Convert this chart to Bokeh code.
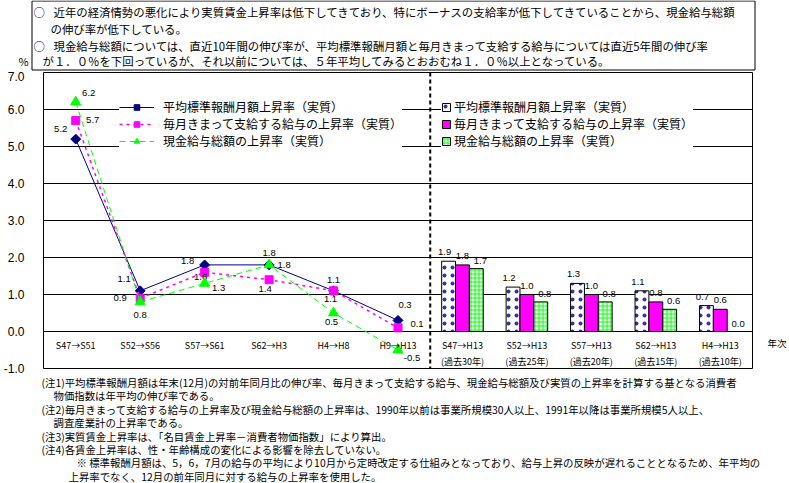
import math
from bokeh.plotting import figure
from bokeh.layouts import column
from bokeh.models import (ColumnDataSource, FactorRange, Range1d, FixedTicker, LinearAxis,
                          PrintfTickFormatter, Legend, LegendItem, Span)
from bokeh.transform import dodge
from bokeh.core.properties import value
from bokeh.embed import file_html
from bokeh.resources import INLINE

# ---------------- data ----------------
line_periods = ["S47→S51", "S52→S56", "S57→S61", "S62→H3", "H4→H8", "H9→H13"]
bar_periods = ["S47→H13\n(過去30年)", "S52→H13\n(過去25年)", "S57→H13\n(過去20年)",
               "S62→H13\n(過去15年)", "H4→H13\n(過去10年)"]

series_names = ["平均標準報酬月額上昇率（実質）",
                "毎月きまって支給する給与の上昇率（実質）",
                "現金給与総額の上昇率（実質）"]

line_standard = [5.2, 1.1, 1.8, 1.8, 1.1, 0.3]
line_regular = [5.7, 0.9, 1.6, 1.4, 1.1, 0.1]
line_total = [6.2, 0.8, 1.3, 1.8, 0.5, -0.5]

bar_standard = [1.9, 1.2, 1.3, 1.1, 0.7]
bar_regular = [1.8, 1.0, 1.0, 0.8, 0.6]
bar_total = [1.7, 0.8, 0.8, 0.6, 0.0]

y_ticks = [-1, 0, 1, 2, 3, 4, 5, 6, 7]
unit_label = "%"
x_title = "年次"

top_bullets = ["○", "○"]
top_lines = [
    "近年の経済情勢の悪化により実質賃金上昇率は低下してきており、特にボーナスの支給率が低下してきていることから、現金給与総額",
    "の伸び率が低下している。",
    "現金給与総額については、直近10年間の伸び率が、平均標準報酬月額と毎月きまって支給する給与については直近5年間の伸び率",
    "が１．０％を下回っているが、それ以前については、５年平均してみるとおおむね１．０％以上となっている。",
]

notes = [
    "(注1)平均標準報酬月額は年末(12月)の対前年同月比の伸び率、毎月きまって支給する給与、現金給与総額及び実質の上昇率を計算する基となる消費者",
    "物価指数は年平均の伸び率である。",
    "(注2)毎月きまって支給する給与の上昇率及び現金給与総額の上昇率は、1990年以前は事業所規模30人以上、1991年以降は事業所規模5人以上、",
    "調査産業計の上昇率である。",
    "(注3)実質賃金上昇率は、「名目賃金上昇率－消費者物価指数」により算出。",
    "(注4)各賃金上昇率は、性・年齢構成の変化による影響を除去していない。",
    "※ 標準報酬月額は、5，6，7月の給与の平均により10月から定時改定する仕組みとなっており、給与上昇の反映が遅れることとなるため、年平均の",
    "上昇率でなく、12月の前年同月に対する給与の上昇率を使用した。",
]

# ---------------- styles ----------------
JP = "Noto Sans CJK JP"
NUM = "Liberation Sans"
NAVY, MAGENTA, GREEN = "#000080", "#FF00FF", "#00FF00"
W = 789
TOP_H, MAIN_H, NOTE_H = 71, 305, 107

off_standard = [(-15, -10), (-16, -12), (-17, -4), (0, -12), (0, -11), (7, -15)]
off_regular = [(17, -1), (-20, 0), (-4, 5), (-4, 9), (-3, 8), (19, -4)]
off_total = [(13, -9), (0, 13), (14, 5), (15, 0), (-2, 9), (14, 8)]


def text_panel(h):
    f = figure(width=W, height=h, x_range=Range1d(0, W), y_range=Range1d(h, 0),
               output_backend="svg", toolbar_location=None, min_border=0,
               frame_align=False)
    f.axis.visible = False
    f.grid.grid_line_color = None
    f.outline_line_color = None
    f.background_fill_color = "white"
    f.border_fill_color = "white"
    return f


# ---------------- top text box ----------------
ptop = text_panel(TOP_H)
ptop.quad(left=31.5, right=754.5, top=0.5, bottom=69.5, fill_color=None,
          line_color="black", line_width=1)
ptop.text(x=[33, 33], y=[11.5, 45], text=top_bullets, text_align="left",
          text_baseline="middle", text_font=value(JP), text_font_size="11.4px",
          text_color="black")
ptop.text(x=[53, 50, 53, 42], y=[11.5, 28, 45, 60.5], text=top_lines, text_align="left",
          text_baseline="middle", text_font=value(JP), text_font_size="11.4px",
          text_color="black")
ptop.text(x=[23], y=[60.5], text=[unit_label], text_align="center", text_baseline="middle",
          text_font=value(JP), text_font_size="11px", text_color="black")

# ---------------- main chart ----------------
p = figure(width=W, height=MAIN_H,
           x_range=FactorRange(factors=line_periods + bar_periods),
           y_range=Range1d(-1, 7),
           output_backend="svg", toolbar_location=None,
           min_border_left=39, min_border_right=36,
           min_border_top=1, min_border_bottom=8, frame_align=False)
p.background_fill_color = "white"
p.border_fill_color = "white"
p.outline_line_color = "black"
p.outline_line_width = 1

p.xaxis.visible = False
p.xgrid.grid_line_color = None
p.yaxis.ticker = FixedTicker(ticks=y_ticks)
p.yaxis.formatter = PrintfTickFormatter(format="%.1f")
p.yaxis.axis_line_color = None
p.yaxis.major_tick_line_color = None
p.yaxis.minor_tick_line_color = None
p.yaxis.major_label_standoff = 13
p.yaxis.major_label_text_font = NUM
p.yaxis.major_label_text_font_size = "12px"
p.yaxis.major_label_text_color = "black"
p.ygrid.ticker = FixedTicker(ticks=y_ticks)
p.ygrid.grid_line_color = "black"
p.ygrid.grid_line_width = 1

rax = LinearAxis(ticker=FixedTicker(ticks=[-0.3]), major_label_overrides={-0.3: x_title},
                 axis_line_color=None, major_tick_line_color=None,
                 minor_tick_line_color=None, major_label_standoff=9,
                 major_label_text_font=JP, major_label_text_font_size="9.5px",
                 major_label_text_color="black")
p.add_layout(rax, "right")


def fmt(vals):
    return ["%.1f" % v for v in vals]


line_specs = [
    (line_standard, off_standard, dict(line_color=NAVY, line_width=1),
     dict(marker="square", angle=math.pi / 4, size=7, fill_color=NAVY, line_color=NAVY)),
    (line_regular, off_regular, dict(line_color=MAGENTA, line_width=1.5, line_dash="3 4"),
     dict(marker="square", size=8, fill_color=MAGENTA, line_color=MAGENTA)),
    (line_total, off_total, dict(line_color=GREEN, line_width=1, line_dash="6 4"),
     dict(marker="triangle", size=10, fill_color=GREEN, line_color=GREEN)),
]
line_items = []
for name, (vals, offs, lkw, mkw) in zip(series_names, line_specs):
    src = ColumnDataSource(dict(x=line_periods, y=vals, t=fmt(vals),
                                dx=[o[0] for o in offs], dy=[o[1] for o in offs]))
    lr = p.line(x="x", y="y", source=src, **lkw)
    sr = p.scatter(x="x", y="y", source=src, **mkw)
    p.text(x="x", y="y", text="t", source=src, x_offset="dx", y_offset="dy",
           text_align="center", text_baseline="middle",
           text_font=value(NUM), text_font_size="9.5px", text_color="black")
    line_items.append(LegendItem(label=name, renderers=[lr, sr]))

w = 0.215
bsrc = ColumnDataSource(dict(x=bar_periods, a=bar_standard, b=bar_regular, c=bar_total,
                             ta=fmt(bar_standard), tb=fmt(bar_regular), tc=fmt(bar_total)))
bar_specs = [
    ("a", "ta", -w, (-4, -9), dict(fill_color="white", line_color="black", hatch_pattern="dot",
                                   hatch_color=NAVY, hatch_scale=8, hatch_weight=0.5,
                                   hatch_alpha=0.8)),
    ("b", "tb", 0.0, (0, -9), dict(fill_color=MAGENTA, line_color="black")),
    ("c", "tc", w, (4, -8), dict(fill_color="white", line_color="black", hatch_pattern="cross",
                                 hatch_color=GREEN, hatch_scale=4, hatch_weight=1)),
]
bar_items = []
for name, (col, tcol, off, (dx, dy), kw) in zip(series_names, bar_specs):
    br = p.vbar(x=dodge("x", off, range=p.x_range), top=col, width=w, bottom=0,
                source=bsrc, line_width=1, **kw)
    p.text(x=dodge("x", off, range=p.x_range), y=col, text=tcol, source=bsrc,
           x_offset=dx, y_offset=dy, text_align="center", text_baseline="middle",
           text_font=value(NUM), text_font_size="9.5px", text_color="black")
    bar_items.append(LegendItem(label=name, renderers=[br]))

cat_src = ColumnDataSource(dict(x=line_periods + bar_periods, t=line_periods + bar_periods))
p.text(x="x", y=0, text="t", source=cat_src, y_offset=7,
       text_align="center", text_baseline="top", text_line_height=1.3,
       text_font=value(JP), text_font_size="9px", text_color="black")

p.add_layout(Span(location=6, dimension="height", line_color="black",
                  line_width=2, line_dash="4 3"))

common = dict(background_fill_color="white", background_fill_alpha=1.0,
              border_line_color=None, padding=13, spacing=0, margin=0,
              label_height=14, label_text_font=JP, label_text_font_size="12px",
              label_text_line_height=1.0, label_text_color="black")
leg1 = Legend(items=line_items, location=(76, 219), glyph_width=35, glyph_height=14,
              label_standoff=9, **common)
leg2 = Legend(items=bar_items, location=(398, 219), glyph_width=10, glyph_height=10,
              label_standoff=3, **common)
p.add_layout(leg1)
p.add_layout(leg2)

# ---------------- notes ----------------
pnote = text_panel(NOTE_H)
note_x = [41, 53, 41, 53, 41, 41, 76, 68]
note_y = [6 + 13.4 * i for i in range(len(notes))]
pnote.text(x=note_x, y=note_y, text=notes, text_align="left", text_baseline="middle",
           text_font=value(JP), text_font_size="10.4px", text_color="black")

layout = column(ptop, p, pnote, spacing=0)
open("out.html", "w").write(file_html(layout, INLINE))
